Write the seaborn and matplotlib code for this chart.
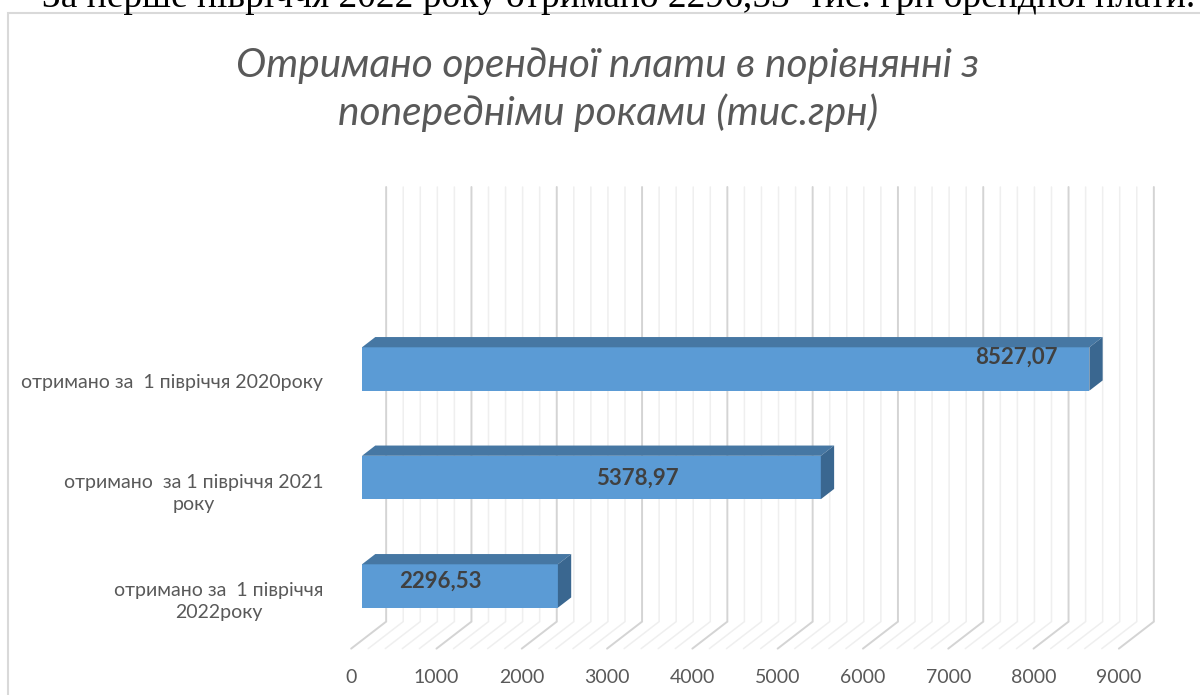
import matplotlib
matplotlib.use('Agg')
import matplotlib.pyplot as plt
import seaborn as sns
import pandas as pd
import numpy as np
from matplotlib.patches import Polygon, Rectangle

# ---- дані ----
categories = ['отримано за  1 півріччя 2020року',
              'отримано  за 1 півріччя 2021\nроку',
              'отримано за  1 півріччя\n2022року']
values = [8527.07, 5378.97, 2296.53]
value_labels = ['8527,07', '5378,97', '2296,53']
x_ticks = list(range(0, 9001, 1000))
x_grid = list(range(0, 9001, 200))

title_lines = ['Отримано орендної плати в порівнянні з',
               'попередніми роками (тис.грн)']
header = 'За перше півріччя 2022 року отримано 2296,53  тис. грн орендної плати.'

# положення підписів значень усередині смуг (частка значення, зсув по y)
label_frac = [0.90, 0.60, 0.40]
label_dy = [-0.11, 0.01, -0.04]

# ---- кольори ----
FRONT = '#5b9bd5'
TOP = '#4677a3'
SIDE = '#3a6790'
GRID_MAJOR = '#d4d4d4'
GRID_MINOR = '#efefef'
TXT = '#595959'

# ---- геометрія (пікселі) ----
W, H = 1200, 695
L, R, T, B = 335, 1185, 150, 655          # рамка осей
face0 = 362                                 # x нуля на передній грані смуг
ppu = 0.0853                                # пікселів на одиницю значення
cat0, ppc = 369, 108.5                      # y першої категорії, пікселів на категорію

# 3D-глибина в одиницях даних
Dx = 35 / ppu
Dy = -27 / ppc
bar_d0, bar_d1 = 0.31, 0.69
wall_dx, wall_dy = (1 - bar_d0) * Dx, (1 - bar_d0) * Dy
front_dx, front_dy = -bar_d0 * Dx, -bar_d0 * Dy
bar_dx, bar_dy = (bar_d1 - bar_d0) * Dx, (bar_d1 - bar_d0) * Dy
floor_y = 2.5
wall_top = (187 - cat0) / ppc

sns.set_style('white')
plt.rcParams['font.family'] = ['Lato', 'DejaVu Sans']

fig = plt.figure(figsize=(W / 100, H / 100), dpi=100)
ax = fig.add_axes([L / W, 1 - B / H, (R - L) / W, (B - T) / H])
ax.set_facecolor('none')

df = pd.DataFrame({'cat': categories, 'value': values})
sns.barplot(data=df, x='value', y='cat', orient='h', width=0.4, color=FRONT,
            saturation=1, linewidth=0, ax=ax, zorder=3)

ax.set_xlim((L - face0) / ppu, (R - face0) / ppu)
ax.set_ylim((B - cat0) / ppc, (T - cat0) / ppc)

# задня стінка і підлога
for v in x_grid:
    major = v % 1000 == 0
    ax.plot([v + wall_dx, v + wall_dx, v + front_dx],
            [wall_top, floor_y + wall_dy, floor_y + front_dy],
            color=GRID_MAJOR if major else GRID_MINOR,
            lw=1.4 if major else 1.1, zorder=1, clip_on=False,
            solid_joinstyle='miter')

# верхня і бокова грані смуг
for p in ax.patches[:len(values)]:
    x0, w = p.get_x(), p.get_width()
    y0, h = p.get_y(), p.get_height()
    top = Polygon([(x0, y0), (x0 + w, y0), (x0 + w + bar_dx, y0 + bar_dy),
                   (x0 + bar_dx, y0 + bar_dy)], closed=True,
                  facecolor=TOP, edgecolor='none', zorder=4)
    side = Polygon([(x0 + w, y0), (x0 + w, y0 + h), (x0 + w + bar_dx, y0 + h + bar_dy),
                    (x0 + w + bar_dx, y0 + bar_dy)], closed=True,
                   facecolor=SIDE, edgecolor='none', zorder=4)
    ax.add_patch(top)
    ax.add_patch(side)

# підписи значень
for i, p in enumerate(ax.patches[:len(values)]):
    cy = p.get_y() + p.get_height() / 2 + label_dy[i]
    ax.text(values[i] * label_frac[i], cy, value_labels[i], ha='center', va='center',
            fontsize=16, fontweight='bold', color='#404040', zorder=6)

# осі
ax.set_xticks([v + front_dx for v in x_ticks], labels=[str(v) for v in x_ticks])
ax.set_yticks([i + 0.11 for i in range(len(categories))], labels=categories)
ax.tick_params(axis='x', length=0, pad=10, labelsize=14, labelcolor=TXT)
ax.tick_params(axis='y', length=0, pad=8.6, labelsize=14, labelcolor=TXT)
for t in ax.get_yticklabels():
    t.set_multialignment('center')
    t.set_linespacing(1.35)
ax.set_xlabel('')
ax.set_ylabel('')
for s in ax.spines.values():
    s.set_visible(False)

# рамка діаграми
fig.add_artist(Rectangle((8 / W, -0.05), 1.0, (H - 13) / H + 0.05,
                         transform=fig.transFigure, fill=False,
                         edgecolor='#d9d9d9', lw=1.5))


def fit_width(t, target_px):
    fig.canvas.draw()
    w = t.get_window_extent().width
    t.set_fontsize(t.get_fontsize() * target_px / w)


# заголовок
t1 = fig.text(608 / W, 1 - 77 / H, title_lines[0], ha='center', va='baseline',
              fontsize=26, fontweight='normal', style='italic', color=TXT)
t2 = fig.text(608 / W, 1 - 125 / H, title_lines[1], ha='center', va='baseline',
              fontsize=26, fontweight='normal', style='italic', color=TXT)
fit_width(t1, 743)
t2.set_fontsize(t1.get_fontsize())

# обрізаний рядок тексту над діаграмою
hd = fig.text(42 / W, 1 - 7 / H, header, ha='left', va='baseline',
              fontsize=26, color='black', family=['Liberation Serif', 'DejaVu Serif'])
fit_width(hd, 1156)

fig.savefig('out.png', dpi=100)
